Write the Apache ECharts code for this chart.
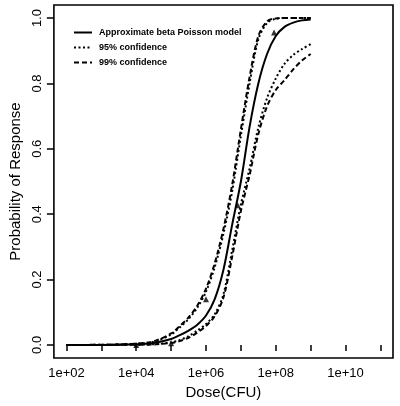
<!DOCTYPE html>
<html>
<head>
<meta charset="utf-8">
<script src="https://cdn.jsdelivr.net/npm/echarts@6/dist/echarts.min.js"></script>
<style>
  html, body { margin: 0; padding: 0; background: #fff; }
  #chart { width: 400px; height: 406px; }
</style>
</head>
<body>
<div id="chart"></div>
<script>
  var logDose = [2, 3, 4, 4.5, 5, 5.25, 5.5, 5.75, 6, 6.25, 6.5, 6.75, 7, 7.25, 7.5, 7.75, 8, 8.25, 8.5, 8.75, 9];
  var modelP = [0, 0, 0.002, 0.006, 0.018, 0.03, 0.044, 0.062, 0.09, 0.14, 0.23, 0.368, 0.5, 0.668, 0.8, 0.89, 0.945, 0.973, 0.986, 0.993, 0.996];
  var low95 = [0, 0.0004, 0.0035, 0.01, 0.032, 0.054, 0.079, 0.114, 0.163, 0.238, 0.34, 0.47, 0.64, 0.8, 0.935, 0.985, 0.998, 1, 1, 1, 1];
  var high95 = [0, 0, 0.0008, 0.002, 0.008, 0.015, 0.027, 0.044, 0.064, 0.094, 0.155, 0.29, 0.43, 0.54, 0.665, 0.755, 0.815, 0.86, 0.887, 0.905, 0.92];
  var low99 = [0, 0.0005, 0.004, 0.011, 0.035, 0.058, 0.084, 0.12, 0.172, 0.25, 0.355, 0.49, 0.66, 0.82, 0.945, 0.99, 0.999, 1, 1, 1, 1];
  var high99 = [0, 0, 0.0006, 0.0015, 0.006, 0.012, 0.022, 0.038, 0.058, 0.088, 0.145, 0.27, 0.41, 0.52, 0.645, 0.73, 0.78, 0.81, 0.843, 0.87, 0.89];

  // observed responses (triangles)
  var obsLogDose = [4, 5, 6, 6.91, 7.95];
  var obsP = [0, 0.005, 0.14, 0.427, 0.956];

  var xTicks = [2, 3, 4, 5, 6, 7, 8, 9, 10, 11];
  var xLabels = [2, 4, 6, 8, 10];
  var yTicks = [0, 0.2, 0.4, 0.6, 0.8, 1];

  var font = "'Liberation Sans', Arial, sans-serif";

  function pairs(ys) {
    return logDose.map(function (x, i) { return [x, ys[i]]; });
  }

  function curve(name, ys, type) {
    return {
      name: name,
      type: 'line',
      data: pairs(ys),
      symbol: 'none',
      smooth: 0.3,
      silent: true,
      lineStyle: { color: '#000', width: 2, type: type, cap: 'butt' },
      itemStyle: { color: '#000' }
    };
  }

  var chart = echarts.init(document.getElementById('chart'));
  var option = {
    backgroundColor: '#fff',
    animation: false,
    textStyle: { fontFamily: font, color: '#000' },
    grid: {
      left: 52, right: 7, top: 5, bottom: 48,
      show: true, borderColor: '#000', borderWidth: 1.6, backgroundColor: 'transparent'
    },
    legend: {
      data: ['Approximate beta Poisson model', '95% confidence', '99% confidence'],
      orient: 'vertical',
      left: 73,
      top: 28,
      padding: 0,
      itemWidth: 18,
      itemHeight: 10,
      itemGap: 6,
      selectedMode: false,
      itemStyle: { opacity: 0 },
      textStyle: { fontFamily: font, fontSize: 9, fontWeight: 'bold', color: '#000', padding: [0, 0, 0, 2] }
    },
    xAxis: {
      type: 'value',
      min: 1.64,
      max: 11.36,
      name: 'Dose(CFU)',
      nameLocation: 'middle',
      nameGap: 19,
      nameTextStyle: { fontFamily: font, fontSize: 15, color: '#000' },
      axisLine: { show: false },
      splitLine: { show: false },
      axisTick: {
        show: true, inside: false, length: 6,
        customValues: xTicks,
        lineStyle: { color: '#000', width: 1.5 }
      },
      axisLabel: {
        customValues: xLabels,
        margin: 9,
        fontFamily: font, fontSize: 13, color: '#000',
        formatter: function (v) { return '1e+' + (v < 10 ? '0' : '') + v; }
      }
    },
    yAxis: {
      type: 'value',
      min: -0.04,
      max: 1.04,
      name: 'Probability of Response',
      nameLocation: 'middle',
      nameGap: 30,
      nameTextStyle: { fontFamily: font, fontSize: 15, color: '#000' },
      axisLine: { show: false },
      splitLine: { show: false },
      axisTick: {
        show: true, inside: false, length: 7,
        customValues: yTicks,
        lineStyle: { color: '#000', width: 1.5 }
      },
      axisLabel: {
        customValues: yTicks,
        rotate: 90,
        margin: 10,
        fontFamily: font, fontSize: 13, color: '#000',
        formatter: function (v) { return v.toFixed(1); }
      }
    },
    series: [
      curve('Approximate beta Poisson model', modelP, 'solid'),
      curve('95% confidence', low95, [2, 2.5]),
      curve('95% confidence', high95, [2, 2.5]),
      curve('99% confidence', low99, [5, 3]),
      curve('99% confidence', high99, [5, 3]),
      {
        name: 'observed',
        type: 'scatter',
        symbol: 'triangle',
        symbolSize: 6,
        silent: true,
        itemStyle: { color: '#000' },
        data: obsLogDose.map(function (x, i) { return [x, obsP[i]]; })
      }
    ]
  };
  chart.setOption(option);
</script>
</body>
</html>
